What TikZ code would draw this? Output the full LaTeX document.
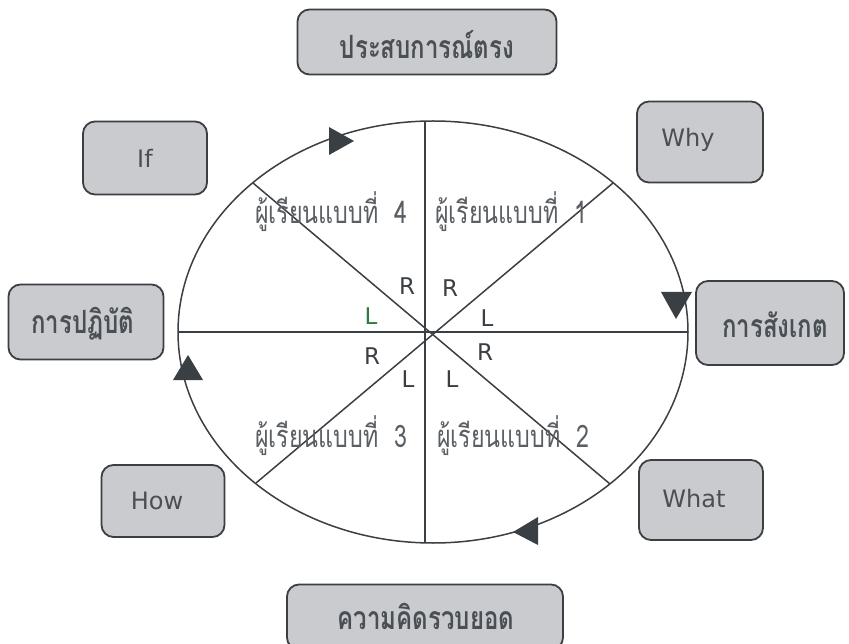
\documentclass[tikz,border=0pt]{standalone}
\usepackage{fontspec}
\newfontfamily\thai[Script=Thai,FakeStretch=0.75]{Loma}
\newfontfamily\lat{DejaVu Sans}
\definecolor{boxfill}{HTML}{C9CBCF}
\definecolor{boxline}{HTML}{3C3F42}
\definecolor{ink}{HTML}{3A3F44}
\definecolor{txt}{HTML}{4A4F55}
\definecolor{qtxt}{HTML}{5A5F64}
\definecolor{grn}{HTML}{2F7A3E}
\begin{document}
\begin{tikzpicture}[x=1pt,y=-1pt,
  box/.style={draw=boxline,line width=1.8pt,fill=boxfill,rounded corners=12pt,inner sep=0pt},
  thbox/.style={font=\thai\fontsize{32}{34}\selectfont\bfseries,text=txt,inner sep=1pt},
  enbox/.style={font=\lat\fontsize{24}{26}\selectfont,text=txt},
  quad/.style={font=\thai\fontsize{31}{34}\selectfont,text=qtxt,anchor=base},
  rl/.style={font=\lat\fontsize{23}{25}\selectfont,text=ink},
  tri/.style={fill=ink,draw=none},
  ln/.style={draw=ink,line width=1.5pt}]
\useasboundingbox (0,0) rectangle (849,644);
% ellipse
\coordinate (c) at (433,332);
\draw[ln] (c) ellipse [x radius=255, y radius=211];
\coordinate (e0) at (688,332);
\coordinate (e180) at (178,332);
\coordinate (top) at (425,121);
\coordinate (bot) at (425,543);
\coordinate (d45) at (613,183);
\coordinate (d135) at (253,183);
\coordinate (d225) at (256,483);
\coordinate (d315) at (610,484);
\draw[ln] (e180) -- (e0);
\draw[ln] (top) -- (bot);
\draw[ln] (d135) -- (d315);
\draw[ln] (d45) -- (d225);
% arrowheads
\fill[tri] (329,127) -- (329,155) -- (354,141) -- cycle;
\fill[tri] (661,292) -- (692,292) -- (676,319) -- cycle;
\fill[tri] (538,517) -- (538,545) -- (513,532) -- cycle;
\fill[tri] (173,380) -- (203,380) -- (188,355) -- cycle;
% boxes
\node[box,minimum width=259,minimum height=65] (b1) at (427,42) {};
\node[thbox] at (427,45) {ประสบการณ์ตรง};
\node[box,minimum width=276,minimum height=65] (b2) at (425,617) {};
\node[thbox] at (426,616) {ความคิดรวบยอด};
\node[box,minimum width=124,minimum height=73] (bif) at (145,158) {};
\node[enbox] at (bif) {If};
\node[box,minimum width=126,minimum height=81] (bwhy) at (700,142) {};
\node[enbox] at (688,140) {Why};
\node[box,minimum width=155,minimum height=75] (bdo) at (86,322) {};
\node[thbox] at (83,324) {การปฏิบัติ};
\node[box,minimum width=148,minimum height=84] (bobs) at (770,323) {};
\node[thbox] at (775,325) {การสังเกต};
\node[box,minimum width=123,minimum height=72] (bhow) at (163,501) {};
\node[enbox] at (157,501) {How};
\node[box,minimum width=124,minimum height=80] (bwhat) at (701,500) {};
\node[enbox] at (694,499) {What};
% quadrant labels
\node[quad] (q4) at (331,224) {ผู้เรียนแบบที่~~4};
\node[quad] (q1) at (511,224) {ผู้เรียนแบบที่~~1};
\node[quad] (q3) at (331,447) {ผู้เรียนแบบที่~~3};
\node[quad] (q2) at (513,447) {ผู้เรียนแบบที่~~2};
% R / L
\node[rl] (r1) at (407,286) {R};
\node[rl] (r2) at (450,288) {R};
\node[rl,text=grn] (l1) at (371,316) {L};
\node[rl] (l2) at (487,318) {L};
\node[rl] (r3) at (372,356) {R};
\node[rl] (r4) at (485,352) {R};
\node[rl] (l3) at (408,379) {L};
\node[rl] (l4) at (452,379) {L};
\end{tikzpicture}
\end{document}
